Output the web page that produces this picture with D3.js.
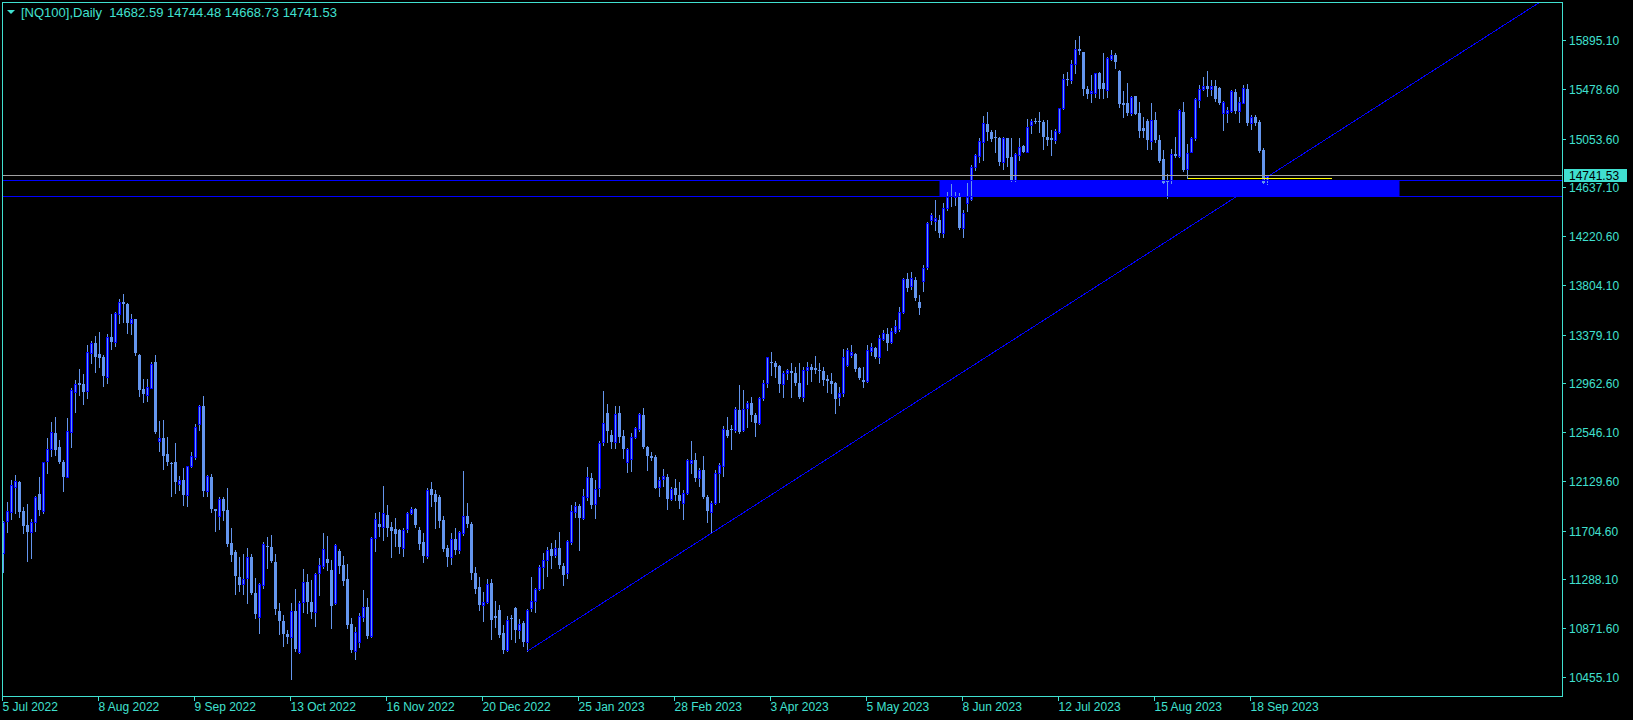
<!DOCTYPE html>
<html>
<head>
<meta charset="utf-8">
<script src="https://cdn.jsdelivr.net/npm/d3@7"></script>
<style>
html, body { margin: 0; padding: 0; background: #000; overflow: hidden; }
svg { display: block; }
text { font-family: "Liberation Sans", Arial, sans-serif; }
</style>
</head>
<body>
<script>
const WIDTH = 1633;
const HEIGHT = 720;

const symbol = '[NQ100],Daily';
const firstDay = '2022-07-05';
const closedDays = ['2022-12-26', '2023-01-02'];

// daily OHLC, one value per bar
const open = [11520,11793,11870,12084,12124,11876,11753,11699,11785,12021,11879,12306,12406,12540,12420,12295,12170,12554,12896,12968,
  12959,12905,13224,13310,13215,13193,13025,13361,13324,13557,13660,13646,13481,13515,13210,12916,12871,12930,13150,12477,
  12500,12363,12289,12295,12110,12141,12013,12264,12341,12620,12774,12050,12170,11890,11836,11981,11884,11600,11528,11315,
  11252,11306,11486,11178,10973,11243,11580,11571,11443,11021,10938,10824,10802,11021,10668,11101,11272,11096,11016,11349,
  11406,11466,11372,11087,11537,11415,11295,10910,10682,10754,10973,11059,10808,11643,11765,11737,11842,11737,11723,11714,
  11557,11720,11857,11894,11714,11609,11492,12062,12022,11999,11800,11557,11486,11634,11543,11691,11834,11765,11349,11229,
  11073,11101,11264,10979,11030,10831,10688,10964,11050,10859,10922,10759,11050,11107,11207,11400,11458,11549,11500,11557,
  11406,11344,11614,11871,11919,11814,11993,12161,11933,12070,12468,12710,12525,12468,12710,12517,12297,12317,12505,12574,
  12696,12426,12346,12337,12078,12146,12169,11981,12069,12012,11947,12027,12289,12312,12160,12226,11998,11870,11941,12198,
  12263,12568,12577,12568,12739,12568,12753,12802,12696,12625,12839,12967,13152,13144,13115,12958,13053,13072,13058,12973,
  12853,13081,13110,13101,13081,13072,13004,12987,12970,12853,12882,13124,13209,13218,13095,12996,12990,13246,13272,13195,
  13346,13389,13323,13409,13432,13577,13856,13800,13850,13660,13840,13960,14363,14357,14363,14249,14463,14568,14557,14568,
  14291,14505,14542,14813,14910,15027,15184,15118,15070,15064,14861,15061,14904,14705,14918,14995,14944,15172,15212,15212,
  15203,15075,15061,15047,15118,15317,15565,15560,15697,15825,15799,15480,15446,15446,15622,15531,15474,15739,15773,15637,
  15366,15366,15280,15423,15275,15146,15210,15041,15218,15047,14881,14696,14705,14924,14910,15286,14796,14947,15061,15389,
  15480,15508,15480,15508,15494,15275,15275,15294,15460,15297,15366,15486,15195,15240,15200,14961,14682.59];
const high = [11790,11950,12141,12181,12130,11913,11936,11808,12004,12170,12298,12497,12634,12680,12483,12312,12668,12928,12996,13087,
  13044,13295,13332,13372,13404,13210,13386,13560,13580,13686,13731,13651,13560,13520,13215,13005,13005,13147,13207,12648,
  12654,12506,12295,12454,12175,12246,12265,12378,12620,12780,12859,12180,12192,11895,11996,11996,12073,11728,11543,11486,
  11508,11557,11508,11306,11258,11614,11657,11671,11508,11087,10987,10859,11092,11209,11106,11377,11337,11287,11344,11472,
  11686,11663,11458,11590,11552,11492,11423,10959,10882,11007,11201,11133,11650,11862,11865,12090,11928,11785,11817,11720,
  11728,11871,11914,11899,11743,11691,12070,12124,12056,12013,11834,11586,11686,11728,11708,12218,11942,11785,11400,11309,
  11187,11295,11292,11110,11073,10902,10979,10984,11059,10956,10939,11035,11315,11221,11412,11520,11572,11600,11629,11694,
  11435,11629,11928,11951,11936,12062,12256,12199,12142,12475,12903,12790,12568,12773,12773,12568,12417,12540,12597,12710,
  12753,12431,12383,12354,12169,12232,12192,12078,12146,12123,12055,12317,12474,12369,12246,12346,12009,11961,12226,12283,
  12602,12676,12611,12768,12953,12910,12816,12853,12711,12853,12996,13195,13232,13161,13124,13075,13087,13138,13110,13144,
  13110,13152,13129,13201,13138,13110,13038,13053,12981,12933,13258,13266,13295,13229,13110,13110,13295,13309,13281,13380,
  13423,13437,13437,13509,13617,13870,13908,13920,13880,13720,13980,14345,14425,14534,14405,14505,14605,14670,14605,14591,
  14448,14676,14833,14927,15061,15255,15286,15132,15132,15075,15075,15067,15061,14933,15061,15004,15223,15223,15232,15283,
  15218,15218,15132,15138,15323,15611,15630,15731,15902,15936,15802,15508,15602,15622,15631,15793,15753,15816,15788,15645,
  15468,15537,15425,15426,15374,15240,15223,15366,15289,15089,14961,14756,14967,15075,15309,15374,15010,15075,15403,15517,
  15588,15636,15560,15560,15502,15383,15331,15474,15480,15417,15517,15525,15260,15260,15218,14975,14744.48];
const low = [11357,11699,11805,11856,11827,11685,11451,11477,11708,11842,11862,12204,12346,12355,12289,12050,12164,12426,12725,12868,
  12791,12842,13139,13067,13104,12945,12968,13261,13290,13481,13495,13395,13389,13210,12862,12811,12819,12925,12540,12392,
  12235,12269,12007,12027,12055,11927,11922,12255,12321,12569,12004,12004,11865,11708,11719,11799,11577,11451,11166,11195,
  11166,11087,11166,10964,10836,11215,11386,11440,10992,10821,10722,10745,10440,10682,10659,11015,11007,10964,10896,11158,
  11386,11372,10879,11078,11344,11244,10873,10674,10614,10717,10936,10793,10802,11537,11666,11629,11666,11486,11577,11520,
  11495,11694,11848,11743,11552,11443,11472,11922,11728,11743,11537,11409,11420,11509,11515,11671,11743,11298,11172,11030,
  10939,11087,10779,10888,10802,10665,10682,10779,10759,10788,10722,10679,11024,11016,11201,11215,11321,11386,11486,11386,
  11244,11306,11591,11828,11543,11808,11971,11899,11819,12008,12441,12468,12411,12411,12468,12326,12206,12217,12497,12562,
  12411,12226,12312,12069,12004,12089,11893,11970,11970,11898,11810,12021,12198,12132,12089,11984,11784,11693,11935,11955,
  12178,12505,12403,12548,12540,12562,12591,12648,12520,12619,12825,12939,13038,13024,12896,12847,13001,12853,12953,12839,
  12816,12961,12990,13053,12981,12953,12896,12882,12716,12782,12859,13115,13195,13072,13007,12939,12981,13209,13186,13144,
  13338,13252,13315,13395,13414,13571,13759,13770,13680,13560,13760,13940,14329,14277,14215,14215,14448,14485,14491,14283,
  14220,14440,14534,14790,14861,14876,15047,15041,14947,14833,14796,14824,14696,14699,14876,14941,14941,15104,15189,15118,
  14970,15004,14918,15024,15104,15312,15517,15531,15617,15782,15431,15403,15374,15417,15403,15403,15417,15731,15665,15326,
  15246,15260,15260,15266,15075,15075,14967,14967,15032,14861,14676,14554,14676,14904,14904,14785,14719,14940,15047,15326,
  15474,15423,15428,15383,15354,15132,15203,15289,15280,15203,15360,15175,15138,15175,14947,14676,14668.73];
const close = [11785,11876,12098,12130,11870,11748,11696,11779,11993,11884,12292,12403,12549,12398,12298,12170,12557,12908,12959,12956,
  12893,13233,13310,13196,13187,13030,13361,13324,13566,13660,13646,13486,13520,13230,12911,12873,12939,13130,12551,12497,
  12349,12298,12275,12127,12141,12013,12261,12346,12594,12774,12050,12175,11890,11879,11979,11876,11591,11500,11323,11243,
  11295,11483,11172,10998,11252,11591,11571,11448,11035,10938,10824,10802,11021,10693,11092,11272,11101,11016,11338,11415,
  11549,11435,11067,11583,11409,11281,10902,10688,10839,10979,11059,10808,11643,11808,11737,11857,11734,11705,11680,11566,
  11714,11857,11894,11757,11594,11495,12056,12013,11956,11794,11552,11486,11634,11543,11694,11834,11765,11349,11210,11073,
  11096,11252,10945,10959,10816,10688,10945,10950,10859,10910,10759,11030,11107,11212,11400,11458,11543,11492,11557,11415,
  11329,11620,11876,11919,11814,12005,12170,11928,12062,12455,12627,12562,12468,12702,12511,12406,12406,12505,12582,12702,
  12426,12346,12331,12075,12141,12175,11975,12066,12012,11964,12032,12312,12312,12160,12226,11998,11875,11947,12200,12269,
  12577,12517,12568,12745,12548,12748,12802,12696,12631,12839,12970,13189,13138,13110,12958,13058,13078,13058,12973,12853,
  13081,13104,13081,13081,13075,12996,12987,12964,12836,12882,13189,13252,13238,13090,13015,12981,13252,13275,13195,13352,
  13395,13315,13414,13457,13580,13859,13785,13870,13700,13610,13950,14334,14403,14377,14249,14463,14562,14557,14568,14291,
  14425,14557,14819,14916,15038,15189,15118,15055,15061,14861,15061,14890,14705,14924,14990,14947,15161,15209,15198,15203,
  15075,15047,15050,15124,15317,15565,15560,15697,15825,15808,15480,15440,15466,15617,15480,15486,15745,15773,15714,15355,
  15346,15280,15417,15269,15127,15127,15047,15218,15047,14870,14682,14690,14924,14910,15303,14790,14933,15061,15394,15480,
  15508,15480,15508,15394,15366,15374,15303,15465,15297,15374,15488,15195,15240,15195,14955,14682,14741.53];

const priceTicks = [15895.10, 15478.60, 15053.60, 14637.10, 14220.60, 13804.10, 13379.10,
  12962.60, 12546.10, 12129.60, 11704.60, 11288.10, 10871.60, 10455.10];
const dateTickEvery = 24;

// drawn objects, in bar index and price
const zoneBars = [234, 349];
const zonePrices = [14564, 14702];
const trendAnchors = [[131, 10679], [300, 14382]];
const supportBars = [296, 332];
const supportPrice = 14719;

const LEFT = 2.5, TOP = 2.5, RIGHT = 1562.5, BOTTOM = 696.5;
const FG = '#40e0d0';
const CANDLE = '#6495ed';
const BLUE = '#0000ff';

// trading days, weekdays minus the closed ones
var dates = [];
var fmtKey = d3.timeFormat('%Y-%m-%d');
var day = d3.timeParse('%Y-%m-%d')(firstDay);
while (dates.length < close.length) {
    var dow = day.getDay();
    if (dow !== 0 && dow !== 6 && closedDays.indexOf(fmtKey(day)) < 0) dates.push(day);
    day = d3.timeDay.offset(day, 1);
}

var x = d3.scaleLinear().domain([0, 390]).range([3.5, 3.5 + 4 * 390]);
var y = d3.scaleLinear().domain([10455.1, 15895.1]).range([677.3, 40.7]);
var crisp = function(v) { return Math.floor(v) + 0.5; };

var svg = d3.select('body').append('svg')
    .attr('width', WIDTH)
    .attr('height', HEIGHT);

svg.append('rect').attr('width', WIDTH).attr('height', HEIGHT).attr('fill', '#000');

svg.append('clipPath').attr('id', 'plot')
    .append('rect')
    .attr('x', LEFT).attr('y', TOP)
    .attr('width', RIGHT - LEFT).attr('height', BOTTOM - TOP);

var plot = svg.append('g').attr('clip-path', 'url(#plot)');

// zone rectangle
plot.append('rect')
    .attr('x', x(zoneBars[0]))
    .attr('y', y(zonePrices[1]))
    .attr('width', x(zoneBars[1]) - x(zoneBars[0]))
    .attr('height', y(zonePrices[0]) - y(zonePrices[1]))
    .attr('fill', BLUE);

// candles
var bars = d3.range(close.length);

plot.append('g').selectAll('line')
    .data(bars)
    .enter()
    .append('line')
    .attr('x1', function(i) { return x(i); })
    .attr('x2', function(i) { return x(i); })
    .attr('y1', function(i) { return Math.round(y(high[i])); })
    .attr('y2', function(i) { return Math.round(y(low[i])) + 1; })
    .attr('stroke', CANDLE)
    .attr('stroke-width', 1)
    .attr('shape-rendering', 'crispEdges');

plot.append('g').selectAll('rect')
    .data(bars.filter(function(i) { return close[i] < open[i]; }))
    .enter()
    .append('rect')
    .attr('x', function(i) { return x(i) - 1.5; })
    .attr('y', function(i) { return Math.round(y(open[i])); })
    .attr('width', 3)
    .attr('height', function(i) {
        return Math.max(Math.round(y(close[i])) - Math.round(y(open[i])), 1);
    })
    .attr('fill', CANDLE)
    .attr('shape-rendering', 'crispEdges');

plot.append('g').selectAll('rect')
    .data(bars.filter(function(i) { return close[i] >= open[i]; }))
    .enter()
    .append('rect')
    .attr('x', function(i) { return x(i) - 1; })
    .attr('y', function(i) { return Math.round(y(close[i])) + 0.5; })
    .attr('width', 2)
    .attr('height', function(i) {
        return Math.max(Math.round(y(open[i])) - Math.round(y(close[i])), 1);
    })
    .attr('fill', CANDLE)
    .attr('stroke', BLUE)
    .attr('stroke-width', 1)
    .attr('shape-rendering', 'crispEdges');

// horizontal lines on the zone edges
plot.selectAll('.hline')
    .data(zonePrices)
    .enter()
    .append('line')
    .attr('x1', LEFT).attr('x2', RIGHT)
    .attr('y1', function(p) { return crisp(y(p)); })
    .attr('y2', function(p) { return crisp(y(p)); })
    .attr('stroke', BLUE)
    .attr('shape-rendering', 'crispEdges');

// trend line, extended to the right edge
var slope = (trendAnchors[1][1] - trendAnchors[0][1]) / (trendAnchors[1][0] - trendAnchors[0][0]);
var lastBar = 390;
plot.append('line')
    .attr('x1', x(trendAnchors[0][0]))
    .attr('y1', y(trendAnchors[0][1]))
    .attr('x2', x(lastBar))
    .attr('y2', y(trendAnchors[0][1] + slope * (lastBar - trendAnchors[0][0])))
    .attr('stroke', BLUE)
    .attr('stroke-width', 1)
    .attr('shape-rendering', 'crispEdges');

// support segment
plot.append('line')
    .attr('x1', x(supportBars[0])).attr('x2', x(supportBars[1]))
    .attr('y1', crisp(y(supportPrice))).attr('y2', crisp(y(supportPrice)))
    .attr('stroke', '#ffff00')
    .attr('shape-rendering', 'crispEdges');

// last price line
var last = close[close.length - 1];
plot.append('line')
    .attr('x1', LEFT).attr('x2', RIGHT)
    .attr('y1', crisp(y(last))).attr('y2', crisp(y(last)))
    .attr('stroke', '#a0a0a0')
    .attr('shape-rendering', 'crispEdges');

// frame
svg.append('rect')
    .attr('x', LEFT).attr('y', TOP)
    .attr('width', RIGHT - LEFT).attr('height', BOTTOM - TOP)
    .attr('fill', 'none')
    .attr('stroke', FG)
    .attr('shape-rendering', 'crispEdges');

// price axis
var yAxis = svg.append('g');
priceTicks.forEach(function(p) {
    var py = crisp(y(p));
    yAxis.append('line')
        .attr('x1', RIGHT).attr('x2', RIGHT + 3)
        .attr('y1', py).attr('y2', py)
        .attr('stroke', FG)
        .attr('shape-rendering', 'crispEdges');
    yAxis.append('text')
        .attr('x', 1569)
        .attr('y', y(p) + 4.5)
        .attr('fill', FG)
        .attr('font-size', 12)
        .text(p.toFixed(2));
});

// last price box
yAxis.append('rect')
    .attr('x', 1564).attr('y', Math.round(y(last)) - 7)
    .attr('width', 63).attr('height', 13)
    .attr('fill', FG);
yAxis.append('text')
    .attr('x', 1569)
    .attr('y', y(last) + 4.5)
    .attr('fill', '#000')
    .attr('font-size', 12)
    .text(last.toFixed(2));

// date axis
var fmtDate = d3.timeFormat('%-d %b %Y');
var xAxis = svg.append('g');
bars.filter(function(i) { return i % dateTickEvery === 0; }).forEach(function(i) {
    xAxis.append('line')
        .attr('x1', crisp(x(i)) - 1).attr('x2', crisp(x(i)) - 1)
        .attr('y1', BOTTOM).attr('y2', BOTTOM + 4)
        .attr('stroke', FG)
        .attr('shape-rendering', 'crispEdges');
    xAxis.append('text')
        .attr('x', x(i) - 1)
        .attr('y', 711)
        .attr('fill', FG)
        .attr('font-size', 12)
        .text(fmtDate(dates[i]));
});

// header
var n = close.length - 1;
svg.append('path')
    .attr('d', 'M7,10 L15,10 L11,14 Z')
    .attr('fill', FG);
svg.append('text')
    .attr('x', 21).attr('y', 16.5)
    .attr('fill', FG)
    .attr('font-size', 13)
    .style('white-space', 'pre')
    .text(symbol + '  ' + [open[n], high[n], low[n], close[n]].map(function(v) { return v.toFixed(2); }).join(' '));
</script>
</body>
</html>
